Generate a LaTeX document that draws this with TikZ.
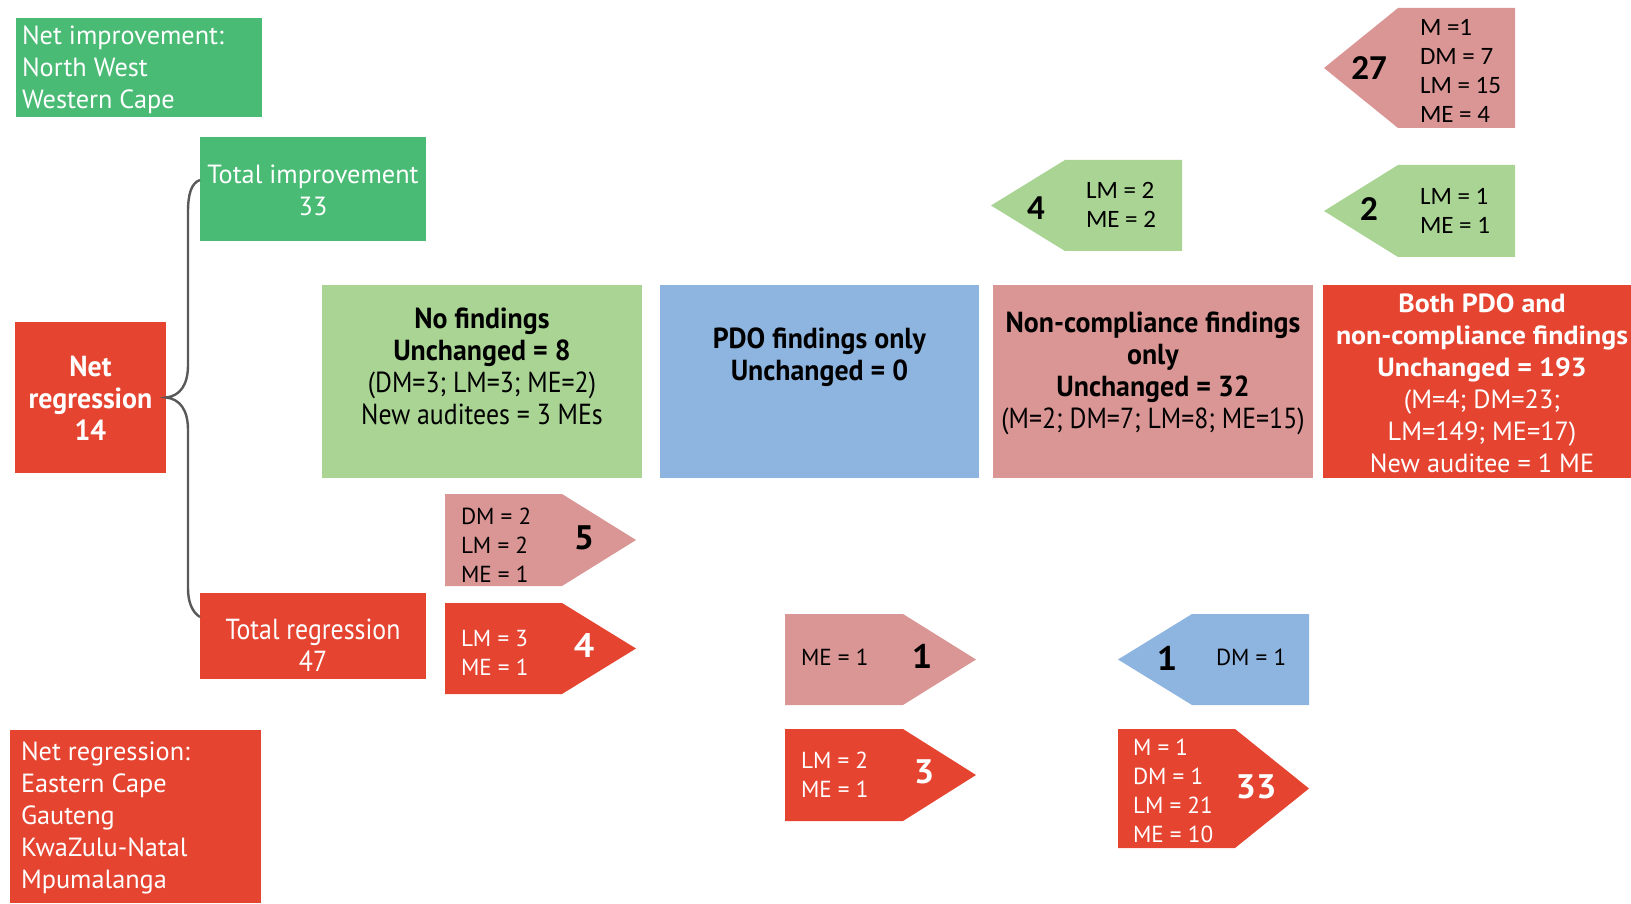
\documentclass[tikz,border=0pt]{standalone}
\usepackage{fontspec}
\setmainfont{PT Sans}[BoldFeatures={FakeStretch=1.06}]
\newfontfamily\condfont{PT Sans}[FakeStretch=0.89, BoldFeatures={FakeStretch=0.96}]
\newfontfamily\califont{Carlito}

\definecolor{dkgreen}{HTML}{49BB74}
\definecolor{ltgreen}{HTML}{A9D494}
\definecolor{rose}{HTML}{DA9694}
\definecolor{brick}{HTML}{E54431}
\definecolor{skyblue}{HTML}{8EB4E0}
\definecolor{bracegray}{HTML}{595959}

\tikzset{
  panel/.style={inner sep=0pt, outer sep=0pt},
  lbl/.style={inner sep=0pt, outer sep=0pt, align=center, font=\fontsize{26.3}{32}\selectfont},
  condlbl/.style={inner sep=0pt, outer sep=0pt, align=center, font=\condfont\fontsize{29}{32}\selectfont},
  callist/.style={inner sep=0pt, outer sep=0pt, align=left, anchor=west, font=\califont\fontsize{25}{29}\selectfont},
  calnum/.style={inner sep=0pt, outer sep=0pt, font=\califont\bfseries\fontsize{35}{35}\selectfont},
  list/.style={inner sep=0pt, outer sep=0pt, align=left, anchor=west, font=\fontsize{23.2}{29}\selectfont},
  bignum/.style={inner sep=0pt, outer sep=0pt, font=\bfseries\fontsize{34}{34}\selectfont},
  brace/.style={draw=bracegray, line width=2.4pt}
}

\begin{document}
\begin{tikzpicture}[x=1pt, y=-1pt]
\useasboundingbox (0,0) rectangle (1631,904);

% ---- region summaries ----
\node[panel, fill=dkgreen, minimum width=246, minimum height=99] (netimp) at (139,67.5) {};
\node[lbl, white, align=left, anchor=west] (netimp-t) at (22,70) {Net improvement:\\North West\\Western Cape};

\node[panel, fill=brick, minimum width=251, minimum height=173] (netreglist) at (135.5,816.5) {};
\node[lbl, white, align=left, anchor=west] (netreglist-t) at (21,818) {Net regression:\\Eastern Cape\\Gauteng\\KwaZulu-Natal\\Mpumalanga};

% ---- totals ----
\node[panel, fill=dkgreen, minimum width=226, minimum height=104] (totimp) at (313,189) {};
\node[lbl, white] (totimp-t) at (313,190) {Total improvement\\33};

\node[panel, fill=brick, minimum width=151, minimum height=151] (netreg) at (90.5,397.5) {};
\node[condlbl, white] (netreg-t) at (90.5,398) {\textbf{Net}\\\textbf{regression}\\\textbf{14}};

\node[panel, fill=brick, minimum width=226, minimum height=86] (totreg) at (313,636) {};
\node[condlbl, white] (totreg-t) at (313,645) {Total regression\\47};

% ---- outcome categories ----
\node[panel, fill=ltgreen, minimum width=320, minimum height=193] (nofind) at (482,381.5) {};
\node[condlbl] (nofind-t) at (482,366) {\textbf{No findings}\\\textbf{Unchanged = 8}\\(DM=3; LM=3; ME=2)\\New auditees = 3 MEs};

\node[panel, fill=skyblue, minimum width=319, minimum height=193] (pdo) at (819.5,381.5) {};
\node[condlbl] (pdo-t) at (819.5,357) {\textbf{PDO findings only}\\\textbf{Unchanged = 0}};

\node[panel, fill=rose, minimum width=320, minimum height=193] (noncomp) at (1153,381.5) {};
\node[condlbl] (noncomp-t) at (1153,373) {\textbf{Non-compliance findings}\\\textbf{only}\\\textbf{Unchanged = 32}\\(M=2; DM=7; LM=8; ME=15)};

\node[panel, fill=brick, minimum width=316, minimum height=193] (both) at (1481,381.5) {};
\node[lbl, white] (both-t) at (1482,383.5) {\textbf{Both PDO and}\\\textbf{non-compliance findings}\\\textbf{Unchanged = 193}\\(M=4; DM=23;\\LM=149; ME=17)\\New auditee = 1 ME};

% ---- movement arrows pointing left ----
\fill[rose] (1324,68) -- (1398,8) -- (1515,8) -- (1515,128) -- (1398,128) -- cycle;
\node[calnum] (a27-n) at (1369,68) {27};
\node[callist] (a27-t) at (1420,70.5) {M =1\\DM = 7\\LM = 15\\ME = 4};

\fill[ltgreen] (1324,211) -- (1398,165) -- (1515,165) -- (1515,257) -- (1398,257) -- cycle;
\node[calnum] (a2-n) at (1369,209) {2};
\node[callist] (a2-t) at (1420,210.5) {LM = 1\\ME = 1};

\fill[ltgreen] (991,205.5) -- (1065,160) -- (1182,160) -- (1182,251) -- (1065,251) -- cycle;
\node[calnum] (a4g-n) at (1036,208) {4};
\node[callist] (a4g-t) at (1086,204.5) {LM = 2\\ME = 2};

\fill[skyblue] (1118,659.5) -- (1192,614) -- (1309,614) -- (1309,705) -- (1192,705) -- cycle;
\node[bignum] (a1b-n) at (1167,658) {1};
\node[list] (a1b-t) at (1216,657) {DM = 1};

% ---- movement arrows pointing right ----
\fill[rose] (445,494) -- (562,494) -- (636,540) -- (562,586) -- (445,586) -- cycle;
\node[list] (a5-t) at (461,545) {DM = 2\\LM = 2\\ME = 1};
\node[bignum] (a5-n) at (584,538) {5};

\fill[brick] (445,603) -- (562,603) -- (636,648.5) -- (562,694) -- (445,694) -- cycle;
\node[list, white] (a4r-t) at (461,652.5) {LM = 3\\ME = 1};
\node[bignum, white] (a4r-n) at (584,646) {4};

\fill[rose] (785,614) -- (903,614) -- (976,659.5) -- (903,705) -- (785,705) -- cycle;
\node[list] (a1p-t) at (801,657) {ME = 1};
\node[bignum] (a1p-n) at (922,656) {1};

\fill[brick] (785,729) -- (903,729) -- (976,775) -- (903,821) -- (785,821) -- cycle;
\node[list, white] (a3-t) at (801,775) {LM = 2\\ME = 1};
\node[bignum, white] (a3-n) at (924,772) {3};

\fill[brick] (1118,729) -- (1235,729) -- (1309,788.5) -- (1235,848) -- (1118,848) -- cycle;
\node[list, white] (a33-t) at (1133,791) {M = 1\\DM = 1\\LM = 21\\ME = 10};
\node[bignum, white] (a33-n) at (1256,787) {33};

% ---- brace joining the totals to the net figure ----
\draw[brace] ([yshift=9pt]totimp.west)
  .. controls (191,183) and (188,195) .. (188,212)
  -- (188,365)
  .. controls (188,385) and (180,396) .. (netreg.east)
  .. controls (180,399) and (188,410) .. (188,430)
  -- (188,588)
  .. controls (188,602) and (192,612) .. ([yshift=19pt]totreg.west);
\end{tikzpicture}
\end{document}
